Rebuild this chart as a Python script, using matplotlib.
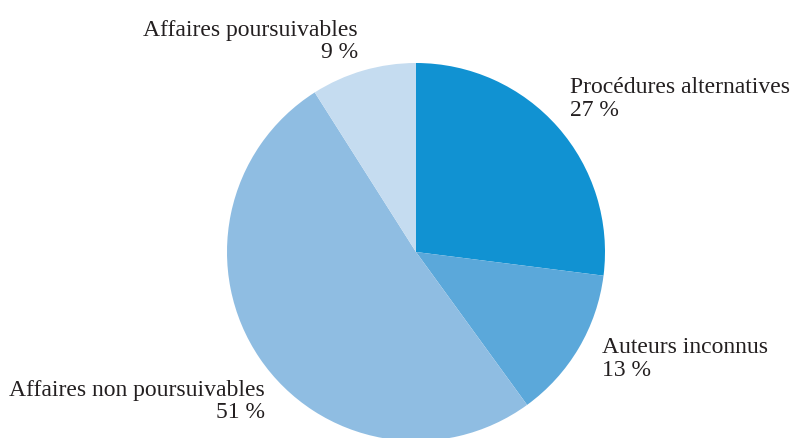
import matplotlib.pyplot as plt

labels = ["Procédures alternatives", "Auteurs inconnus",
          "Affaires non poursuivables", "Affaires poursuivables"]
shares = [27, 13, 51, 9]
colors = ["#1192d2", "#5ba8da", "#8fbde2", "#c5dcf0"]

plt.rcParams["font.family"] = ["Liberation Serif", "DejaVu Serif"]

fig = plt.figure(figsize=(7.94, 4.38), dpi=100)
ax = fig.add_axes([0, 0, 1, 1])

# pie centre and radius in pixel units
cx, cy, r = 416, 438 - 252, 189
ax.pie(shares, colors=colors, startangle=90, counterclock=False,
       center=(cx, cy), radius=r, frame=True,
       wedgeprops=dict(linewidth=0))
ax.set_xlim(0, 794)
ax.set_ylim(0, 438)
ax.set_aspect("equal")
ax.axis("off")

# label anchors: (x, baseline of first line, alignment)
anchors = [(570, 93, "left"), (602, 353, "left"),
           (265, 396, "right"), (358, 36, "right")]
for (x, y, ha), name, v in zip(anchors, labels, shares):
    ax.text(x, 438 - y, name, ha=ha, va="baseline",
            fontsize=17, color="#231f20")
    ax.text(x, 438 - y - 22.5, f"{v} %", ha=ha, va="baseline",
            fontsize=17, color="#231f20")

fig.savefig("out.png", dpi=100)
